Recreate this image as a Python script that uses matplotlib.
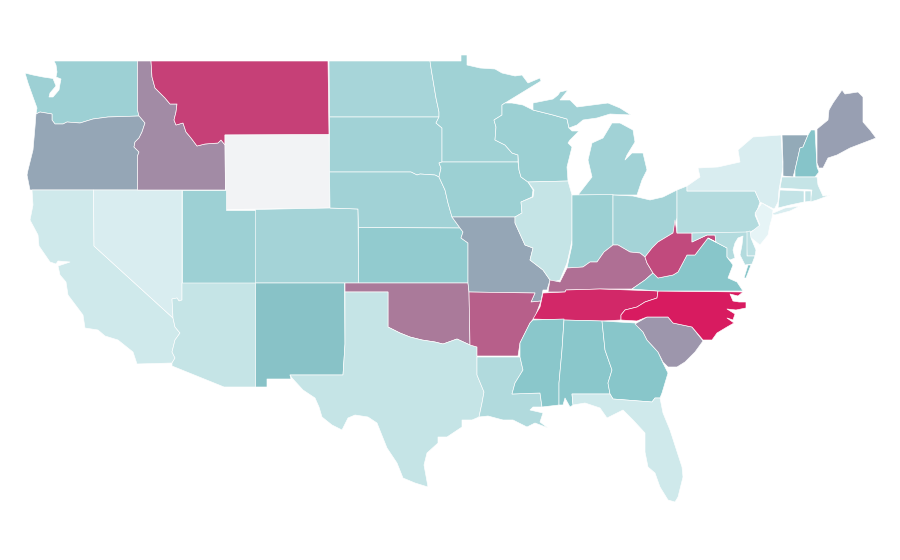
import matplotlib
matplotlib.use("Agg")
import matplotlib.pyplot as plt
import numpy as np
from matplotlib.collections import PatchCollection
from matplotlib.colors import LinearSegmentedColormap, Normalize
from matplotlib.patches import Polygon

# --- values (0-100 scale), Wyoming has no data ---
STATES = ["WA", "OR", "CA", "NV", "ID", "MT", "WY", "UT", "AZ", "CO", "NM", "ND", "SD", "NE", "KS", "OK", "TX",
          "MN", "IA", "MO", "AR", "LA", "WI", "IL", "MI", "IN", "OH", "KY", "TN", "MS", "AL", "GA", "FL", "SC",
          "NC", "VA", "WV", "PA", "NY", "VT", "NH", "ME", "MA", "CT", "RI", "NJ", "DE", "MD"]
VALUES = [38, 59, 13, 8, 67, 89, np.nan, 38, 18, 35, 51, 33, 36, 36, 44, 72, 18,
          37, 39, 59, 80, 28, 39, 18, 36, 39, 35, 75, 96, 48, 48, 49, 13, 64,
          100, 49, 86, 27, 8, 58, 50, 61, 18, 19, 19, 1, 22, 27]

# state outlines, in picture pixels
OUTLINES = {
    "WA": [[(54, 61), (137.5, 61), (137.5, 110), (139, 116), (108, 117), (93, 119), (80, 123), (67, 122), (63, 124),
            (55, 124), (52, 120), (52, 114), (40, 112), (36, 114), (37, 108), (33, 97), (28, 83), (25, 73), (33, 75),
            (43, 77), (53, 78.5), (56, 86), (50, 93), (49, 97), (53, 97), (59, 90), (60, 84), (61, 79), (56, 77),
            (57, 72), (56, 65)]],
    "OR": [[(36, 114), (40, 112), (52, 114), (52, 120), (55, 124), (63, 124), (67, 122), (80, 123), (93, 119),
            (108, 117), (139, 116), (140, 117), (145, 123), (142, 132), (139, 138), (135, 142), (134, 147), (139, 152),
            (137.5, 156), (137.5, 190), (30, 190), (27, 175), (28, 170), (33, 150), (35, 127)]],
    "CA": [[(32, 190), (93.5, 190), (94, 246), (173, 318), (175, 327), (180, 333), (175, 340), (172, 352), (175, 358),
            (172, 363), (137, 364), (133, 352), (118, 340), (105, 336), (98, 330), (85, 328), (83, 315), (68, 295),
            (66, 282), (60, 275), (58, 266), (70, 262), (58, 261), (56, 264), (50, 262), (39, 246), (38, 235), (30, 220),
            (33, 205)]],
    "NV": [[(93.5, 190), (182, 190), (182, 300), (179, 301), (177, 298), (172, 299), (173, 318), (94, 246)]],
    "ID": [[(137.5, 61), (151, 61), (152, 77), (155, 88), (160, 93), (165, 98), (170, 104), (177, 104), (176, 112),
            (174, 120), (176, 125), (183, 123), (186, 132), (191, 138), (197, 146), (205, 144), (218, 143), (221, 140),
            (225, 145), (225.5, 190), (137.5, 190), (137.5, 156), (139, 152), (134, 147), (135, 142), (139, 138),
            (142, 132), (145, 123), (140, 117), (139, 116), (137.5, 110)]],
    "MT": [[(151, 61), (328, 61), (329, 135), (225, 135), (225, 145), (221, 140), (218, 143), (205, 144), (197, 146),
            (191, 138), (186, 132), (183, 123), (176, 125), (174, 120), (176, 112), (177, 104), (170, 104), (165, 98),
            (160, 93), (155, 88), (152, 77)]],
    "WY": [[(225, 135), (329, 134.5), (330, 208), (225.5, 209.5)]],
    "UT": [[(182, 190), (225.5, 190), (225.5, 209.5), (255.5, 209.5), (255.5, 283), (182, 283)]],
    "AZ": [[(182, 283), (255.5, 283), (255.5, 387), (224, 387), (172, 366), (172, 363), (175, 358), (172, 352),
            (175, 340), (180, 333), (175, 327), (173, 318), (172, 299), (177, 298), (179, 301), (182, 300)]],
    "CO": [[(255.5, 209.5), (330, 208), (358, 209), (358.5, 283), (255.5, 283)]],
    "NM": [[(255.5, 283), (344.5, 283), (345, 344), (343, 375), (290, 375), (291, 379), (267, 379), (267, 387),
            (255.5, 387)]],
    "ND": [[(329, 61), (430, 61), (431, 68), (433, 80), (436, 98), (439, 112), (439, 117), (329.5, 117)]],
    "SD": [[(329.5, 117), (439, 117), (436, 123), (442, 128), (442, 162), (439, 163), (441, 168), (439, 177), (435, 175),
            (420, 174), (417, 175), (411, 172), (329.5, 172)]],
    "NE": [[(329.5, 172), (411, 172), (417, 175), (420, 174), (435, 175), (439, 177), (445, 190), (448, 203), (452, 217),
            (460, 228), (358.5, 227.5), (358, 209), (330, 208)]],
    "KS": [[(358.5, 227.5), (460, 228), (463, 232), (461, 238), (468, 243), (468, 283), (358.5, 283)]],
    "OK": [[(345, 283), (468, 283), (469, 292), (470, 345), (457, 339), (443, 344), (435, 342), (422, 340), (410, 337),
            (400, 333), (388, 327), (388, 292), (345, 292)]],
    "TX": [[(345, 292), (388, 292), (388, 327), (400, 333), (410, 337), (422, 340), (435, 342), (443, 344), (457, 339),
            (470, 345), (477, 347), (477, 375), (484, 392), (482, 403), (479, 417), (472, 420), (462, 420), (462, 427),
            (447, 437), (438, 437), (438, 443), (427, 453), (424, 465), (428, 487), (415, 483), (403, 478), (397, 463),
            (387, 448), (377, 423), (368, 417), (355, 415), (348, 418), (342, 430), (332, 425), (322, 417), (319, 407),
            (315, 398), (303, 390), (292, 378), (290, 375), (343, 375), (345, 344)]],
    "MN": [[(430, 61), (461, 61), (461, 55), (467, 55), (467, 65), (480, 68), (495, 69), (502, 73), (515, 76), (522, 75),
            (528, 83), (540, 78), (541, 81), (523, 92), (505, 103), (502, 105), (502, 115), (494, 120), (496, 127),
            (495, 140), (505, 145), (512, 153), (518, 155), (518, 162), (442, 162), (442, 128), (436, 123), (439, 117),
            (439, 112), (436, 98), (433, 80), (431, 68)]],
    "IA": [[(439, 163), (442, 162), (518, 162), (519, 170), (521, 177), (528, 182), (533, 190), (532, 197), (521, 202),
            (522, 213), (515, 217), (452, 217), (448, 203), (445, 190), (439, 177), (441, 168)]],
    "MO": [[(452, 217), (515, 217), (515, 223), (525, 245), (533, 248), (530, 260), (543, 270), (550, 280), (547, 290),
            (543, 290), (541, 301), (531, 302), (535, 293), (469, 292), (468, 283), (468, 243), (461, 238), (463, 232),
            (460, 228)]],
    "AR": [[(469, 292), (535, 293), (531, 302), (541, 301), (535, 317), (530, 323), (520, 343), (518, 356), (477, 356),
            (477, 347), (470, 345)]],
    "LA": [[(477, 357), (520, 357), (523, 370), (515, 383), (512, 394), (540, 393), (542, 407), (533, 407), (530, 410),
            (543, 413), (540, 422), (548, 428), (535, 423), (527, 427), (513, 420), (503, 420), (488, 416), (479, 417),
            (482, 403), (484, 392), (477, 375)]],
    "WI": [[(505, 103), (512, 103), (523, 105), (533, 110), (553, 115), (567, 119), (569, 128), (572, 131), (579, 131),
            (570, 140), (568, 143), (572, 147), (570, 155), (567, 167), (568, 181), (528, 182), (521, 177), (519, 170),
            (518, 155), (512, 153), (505, 145), (495, 140), (496, 127), (494, 120), (502, 115), (502, 105)]],
    "IL": [[(528, 182), (568, 181), (572, 195), (572, 240), (570, 250), (567, 263), (560, 280), (553, 282), (550, 280),
            (543, 270), (530, 260), (533, 248), (525, 245), (515, 223), (515, 217), (522, 213), (521, 202), (533, 197),
            (534, 190)]],
    "MI": [[(533, 110), (553, 115), (567, 119), (569, 128), (577, 125), (583, 120), (597, 118), (610, 114), (631, 115),
            (620, 108), (608, 103), (577, 107), (570, 100), (560, 100), (568, 90), (560, 92), (558, 95), (553, 99),
            (533, 103)],
           [(573, 195), (578, 195), (592, 177), (588, 160), (592, 143), (603, 138), (612, 123), (620, 123), (633, 130),
            (635, 142), (627, 155), (625, 160), (632, 153), (643, 153), (647, 170), (642, 180), (637, 195)]],
    "IN": [[(572, 195), (613, 194.5), (613, 245), (604, 252), (597, 262), (590, 262), (583, 267), (567, 268), (572, 245)]],
    "OH": [[(613, 195), (633, 196), (650, 200), (663, 197), (677, 190), (677, 218), (673, 233), (658, 242), (652, 248),
            (645, 257), (640, 253), (630, 252), (618, 245), (613, 245)]],
    "KY": [[(613, 245), (618, 245), (630, 252), (640, 253), (645, 257), (647, 263), (653, 273), (645, 280), (632, 289),
            (600, 289), (566, 290), (565, 292), (548, 292), (550, 280), (560, 282), (567, 268), (583, 267), (590, 262),
            (597, 262), (604, 252)]],
    "TN": [[(566, 290), (600, 289), (658, 291), (657, 298), (645, 302), (637, 307), (625, 310), (621, 315), (621, 320),
            (602, 321), (563, 320), (533, 319), (540, 307), (543, 293), (565, 292)]],
    "MS": [[(533, 320), (564, 319), (562, 350), (559, 383), (559, 405), (542, 407), (540, 393), (512, 394), (515, 383),
            (523, 370), (520, 357), (520, 343), (530, 323)]],
    "AL": [[(564, 320), (602, 321), (605, 350), (612, 370), (608, 383), (610, 394), (572, 394), (573, 405), (570, 407),
            (565, 398), (563, 405), (559, 405), (559, 383), (562, 350)]],
    "GA": [[(602, 321), (635, 323), (643, 332), (647, 340), (658, 352), (663, 363), (668, 373), (662, 393), (660, 398),
            (655, 398), (652, 402), (613, 399), (610, 394), (608, 383), (612, 370), (605, 350)]],
    "FL": [[(572, 394), (610, 394), (613, 399), (652, 402), (655, 398), (660, 398), (663, 413), (670, 430), (682, 467),
            (683, 477), (678, 497), (675, 502), (668, 500), (660, 487), (655, 473), (648, 467), (645, 452), (645, 433),
            (633, 420), (623, 410), (607, 418), (600, 408), (585, 403), (573, 405)]],
    "SC": [[(635, 324), (647, 317), (668, 317), (673, 323), (692, 327), (703, 341), (695, 352), (685, 362), (677, 367),
            (668, 367), (663, 362), (658, 352), (647, 340), (643, 332)]],
    "NC": [[(658, 291), (743, 292), (738, 296), (730, 294), (733, 301), (739, 302), (746, 302), (746, 308), (736, 310),
            (727, 309), (735, 314), (733, 320), (727, 318), (734, 323), (727, 327), (717, 333), (712, 340), (703, 340),
            (692, 327), (673, 323), (668, 317), (647, 317), (637, 321), (621, 320), (621, 315), (625, 310), (637, 307),
            (645, 302), (657, 298)]],
    "VA": [[(632, 289), (645, 280), (653, 273), (658, 278), (673, 275), (678, 272), (687, 255), (695, 255), (708, 238),
            (727, 248), (727, 257), (733, 265), (728, 278), (737, 282), (743, 291), (658, 291)],
           [(748, 265), (751, 265), (746, 278), (744, 278)]],
    "WV": [[(645, 257), (652, 248), (658, 242), (673, 233), (675, 220), (677, 233), (692, 233), (692, 242), (707, 235),
            (715, 235), (716, 242), (708, 238), (695, 255), (687, 255), (678, 272), (673, 275), (658, 278), (653, 273),
            (647, 263)]],
    "PA": [[(677, 190), (687, 186), (687, 191), (755, 191), (760, 202), (758, 208), (755, 215), (760, 227), (748, 233),
            (677, 233)]],
    "NY": [[(687, 186), (700, 177), (698, 168), (718, 167), (740, 162), (738, 150), (753, 137), (781, 135), (783, 167),
            (779, 190), (778, 202), (775, 208), (774, 209), (760, 202), (755, 191), (687, 191)],
           [(771, 214), (785, 208), (800, 206), (790, 211), (775, 215)]],
    "VT": [[(782, 135), (808, 135), (803, 147), (800, 148), (795, 170), (793, 177), (783, 176), (783, 162)]],
    "NH": [[(808, 135), (811, 130), (815, 130), (817, 167), (819, 172), (815, 177), (795, 177), (795, 170), (800, 148),
            (803, 147)]],
    "ME": [[(817, 129), (828, 120), (829, 110), (833, 103), (842, 90), (845, 94), (858, 92), (863, 97), (863, 122),
            (870, 130), (876, 138), (863, 143), (850, 148), (837, 155), (828, 158), (823, 168), (819, 168), (817, 163)]],
    "MA": [[(782, 177), (817, 177), (818, 185), (823, 196), (830, 195), (817, 200), (810, 202), (812, 190), (780, 188)]],
    "CT": [[(780, 190), (804, 191), (804, 202), (790, 205), (778, 208)]],
    "RI": [[(805, 191), (811, 191), (811, 201), (805, 202)]],
    "NJ": [[(762, 203), (773, 210), (772, 218), (770, 225), (768, 235), (760, 245), (750, 237), (750, 233), (760, 225),
            (755, 213)]],
    "DE": [[(746, 232), (750, 231), (751, 238), (756, 250), (755, 256), (747, 256)]],
    "MD": [[(692, 233), (747, 232), (747, 256), (755, 256), (752, 264), (745, 265), (740, 255), (742, 245), (743, 236),
            (738, 238), (735, 243), (733, 250), (735, 258), (730, 260), (727, 257), (727, 248), (708, 238), (716, 242),
            (715, 235), (707, 235), (692, 242)]],
}

cmap = LinearSegmentedColormap.from_list("teal_pink", ["#e8f5f7", "#86c5c9", "#d81b60"])
cmap.set_bad("#f2f3f5")

fig = plt.figure(figsize=(9, 5.6), dpi=100)
ax = fig.add_axes([0, 0, 1, 1])

patches = []
colors = []
for state, value in zip(STATES, VALUES):
    for ring in OUTLINES[state]:
        patches.append(Polygon(ring, closed=True))
        colors.append(value)

shapes = PatchCollection(patches, cmap=cmap, norm=Normalize(0, 100), edgecolor="white", linewidth=0.45,
                         antialiased=True)
shapes.set_array(np.ma.masked_invalid(colors))
ax.add_collection(shapes)

ax.set_xlim(0, 900)
ax.set_ylim(560, 0)
ax.axis("off")

fig.savefig("out.png", dpi=100, facecolor="white")
plt.close(fig)
